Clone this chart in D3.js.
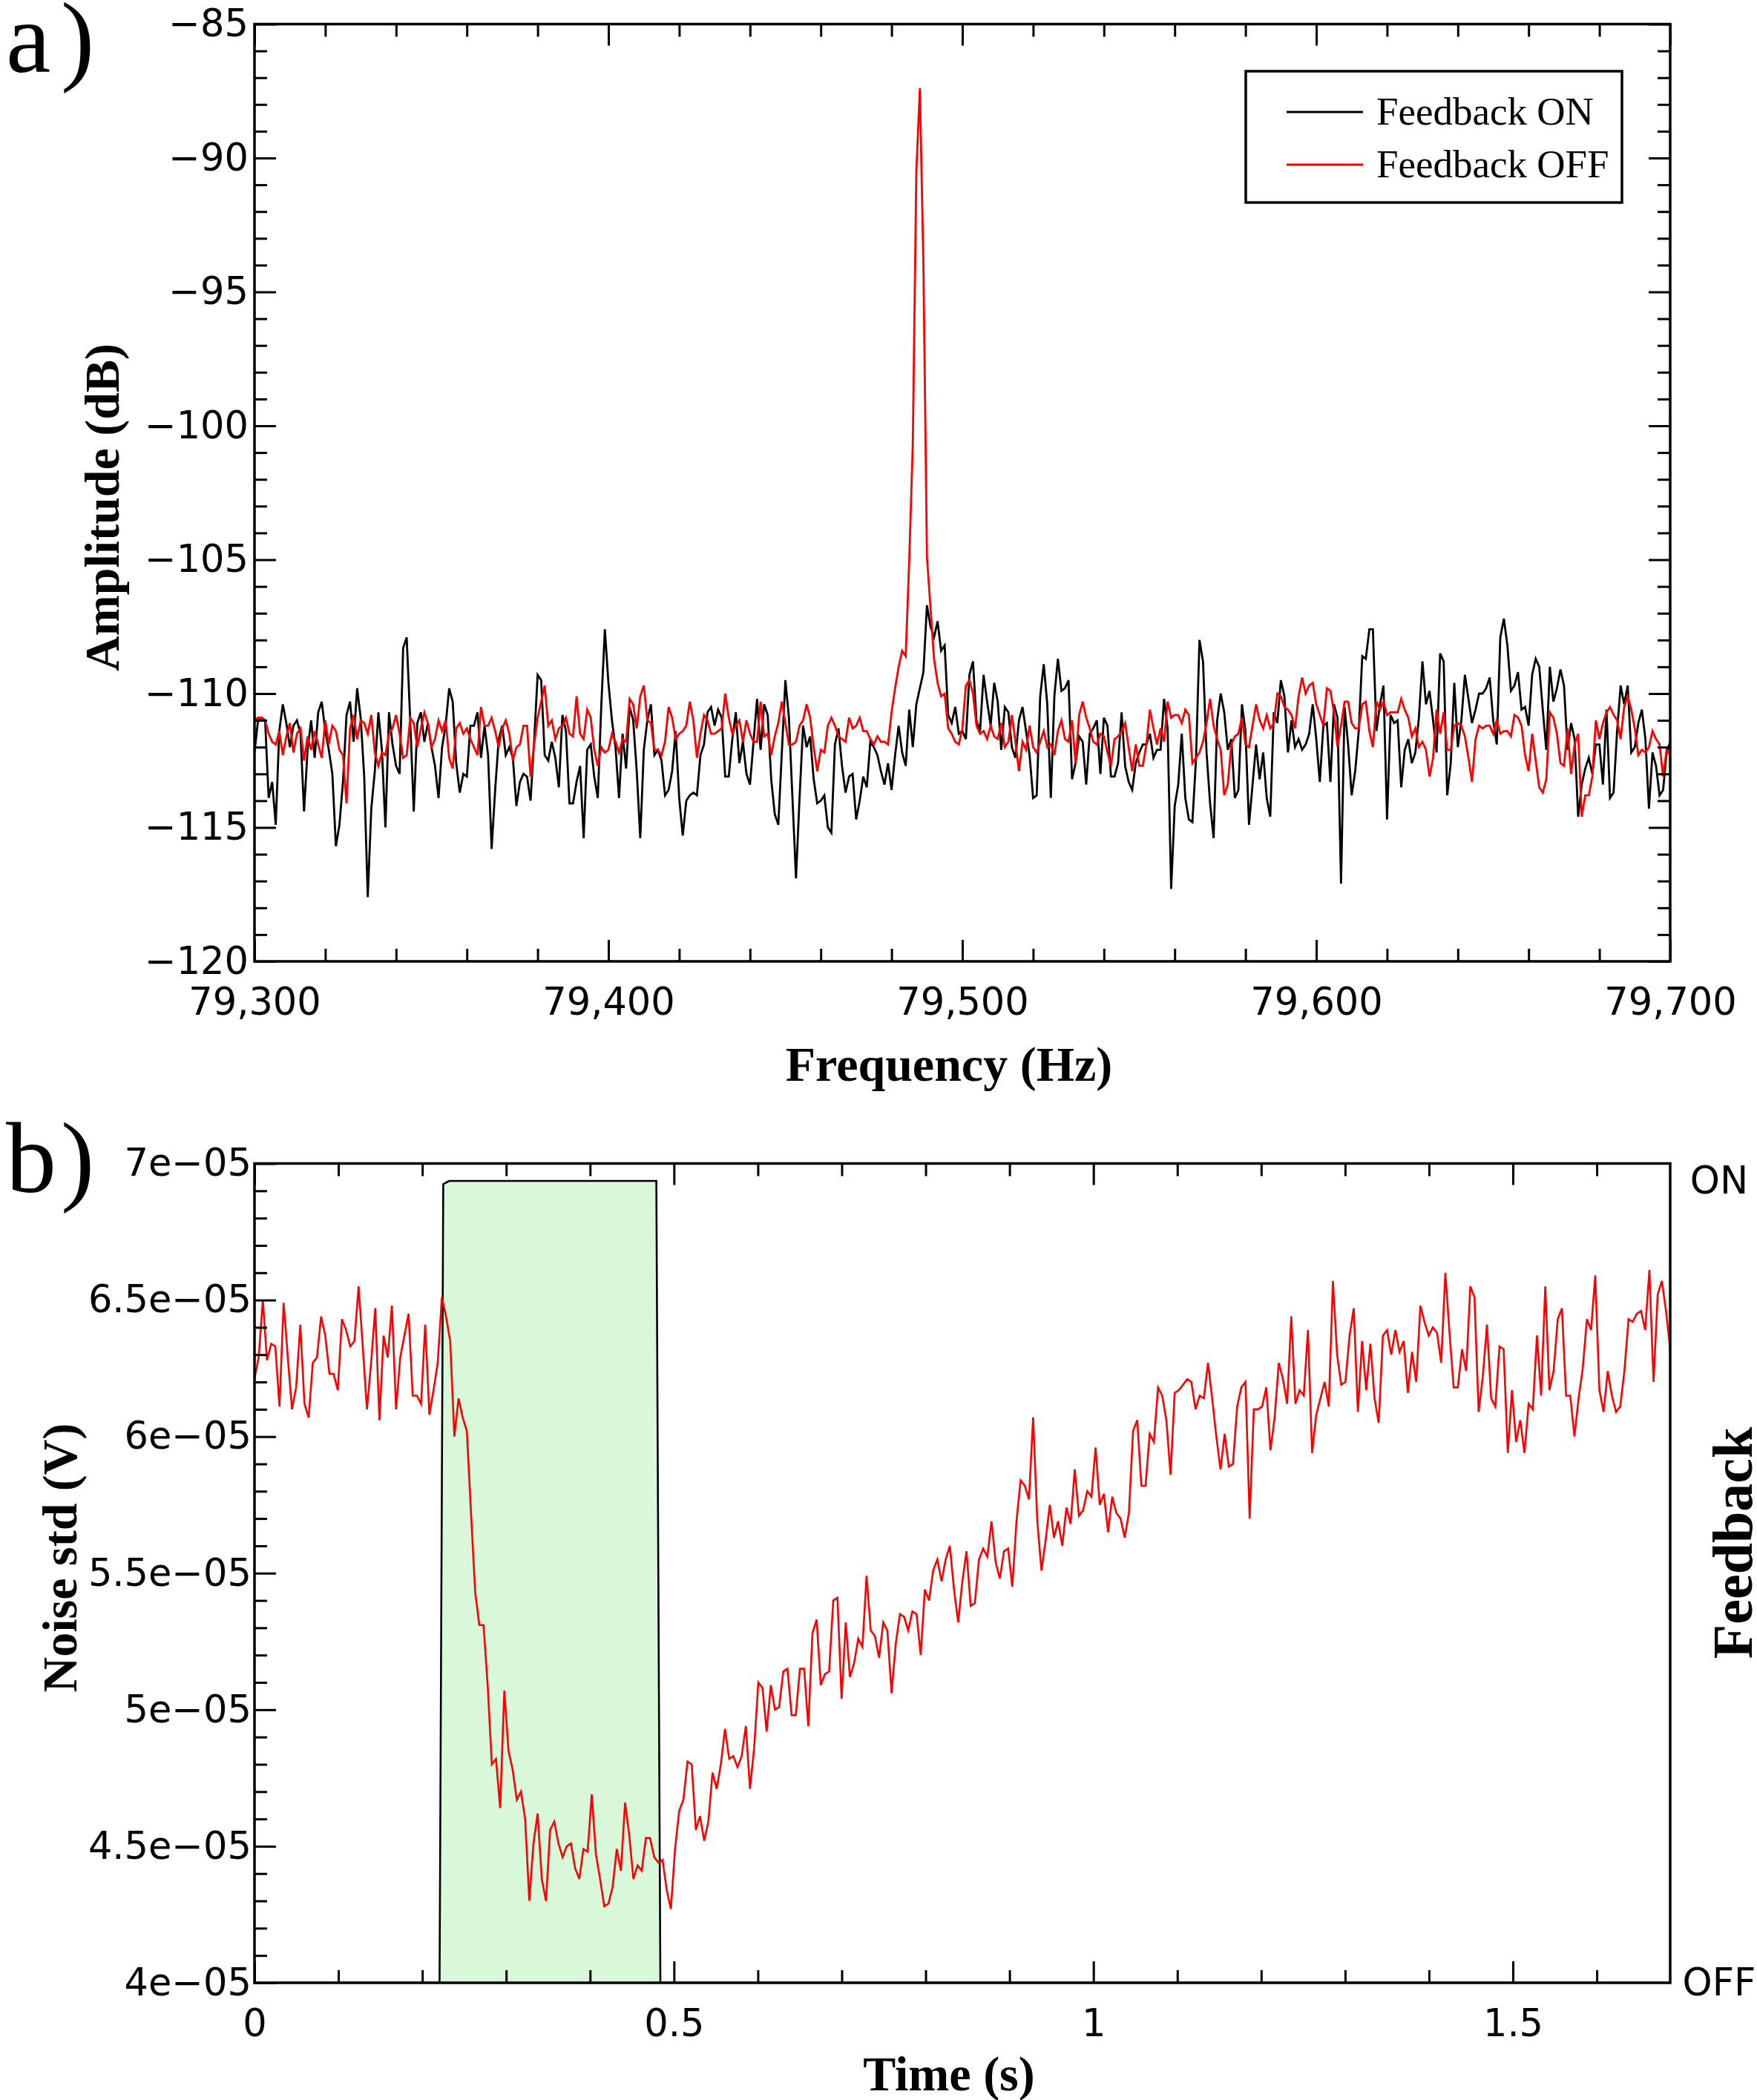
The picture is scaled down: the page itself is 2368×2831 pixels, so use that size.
<!DOCTYPE html>
<html><head><meta charset="utf-8">
<script src="https://cdn.jsdelivr.net/npm/d3@7"></script>
<style>
body{margin:0;background:#fff}
svg{display:block}
</style>
</head><body>
<svg id="chart" width="2368" height="2831"></svg>
<script>
// ---------------- DATA ----------------
// Panel a: spectrum around 79.5 kHz, 1 Hz bins starting at 79,300 Hz
const freqStart = 79300;
const freqStep = 1;
const freqTicks = [79300, 79400, 79500, 79600, 79700];
const ampTicks = [-120, -115, -110, -105, -100, -95, -90, -85];

const amplitudeFeedbackOn = [
-112.2,-111.0,-110.9,-111.0,-113.9,-113.3,-114.9,-111.4,-110.4,-111.1,
-112.0,-111.2,-111.0,-111.5,-114.4,-112.1,-111.0,-112.4,-110.7,-110.3,
-111.4,-112.1,-113.0,-115.7,-114.9,-113.3,-110.8,-110.3,-111.8,-109.8,
-110.9,-113.1,-117.6,-114.3,-112.9,-110.7,-112.1,-115.0,-110.7,-111.9,
-112.7,-113.0,-108.3,-107.9,-111.0,-114.4,-111.1,-110.7,-111.8,-111.1,
-112.0,-112.7,-113.9,-112.0,-111.2,-109.8,-110.3,-112.6,-113.7,-113.0,
-113.1,-111.2,-111.2,-110.7,-112.4,-111.2,-112.3,-115.8,-113.6,-111.7,
-111.2,-112.3,-112.0,-112.4,-114.2,-113.3,-113.0,-113.1,-114.0,-111.8,
-109.3,-109.5,-112.3,-112.5,-111.8,-112.4,-113.5,-110.8,-111.4,-114.1,
-114.1,-113.3,-112.7,-115.4,-112.1,-111.9,-113.1,-113.9,-110.4,-107.6,
-109.6,-111.0,-112.0,-113.9,-111.5,-112.8,-110.5,-111.0,-112.9,-115.4,
-112.1,-111.0,-110.4,-112.3,-112.1,-112.5,-113.8,-113.6,-112.9,-111.4,
-113.9,-115.3,-114.0,-113.8,-113.7,-113.8,-112.3,-111.9,-110.7,-110.5,
-111.2,-110.6,-110.9,-113.1,
-113.1,-111.7,-110.7,-112.6,-111.8,-113.0,-113.4,-111.8,-110.2,-112.1,
-110.4,-110.8,-113.2,-114.5,-114.9,-112.2,-109.5,-110.9,-113.9,-116.9,
-113.9,-111.2,-112.0,-111.6,-113.2,-114.1,-114.0,-113.8,-115.0,-115.2,
-111.9,-111.3,-112.7,-113.7,-113.1,-113.0,-114.7,-114.0,-113.1,-113.5,
-111.8,-112.0,-112.3,-112.9,-113.4,-112.6,-113.6,-112.3,-111.2,-112.2,
-112.7,-110.6,-112.0,-110.4,-109.8,-109.2,-106.7,-107.5,-107.9,-107.3,
-108.4,-108.2,-110.8,-111.1,-110.5,-111.5,-111.4,-111.7,-109.3,-108.8,
-111.0,-111.4,-109.3,-110.3,-111.2,-109.6,-110.3,-112.1,-110.5,-110.7,
-112.0,-112.4,-111.0,-110.5,-111.4,-112.3,-113.9,-113.8,-110.1,-108.9,
-110.4,-113.9,-110.1,-108.7,-109.9,-109.8,-109.5,-113.2,-112.6,-111.6,
-111.8,-113.4,-111.5,-111.3,-111.0,-113.0,-110.9,-111.2,-113.1,-113.1,
-112.6,-110.7,-112.7,-113.3,-113.6,-112.6,-112.2,-111.9,-111.9,-111.5,
-112.4,-112.1,-112.1,-110.2,-111.3,-117.3,-114.2,-113.4,-111.5,-113.9,
-114.7,-114.8,-112.5,
-108.0,-108.8,-112.2,-114.1,-115.4,-111.0,-110.0,-110.7,-112.1,-111.7,
-113.9,-113.6,-110.4,-111.4,-114.9,-113.4,-111.9,-113.2,-112.2,-113.9,
-114.6,-110.7,-111.1,-109.5,-110.1,-112.2,-111.0,-112.0,-111.7,-112.1,
-111.9,-111.5,-110.4,-111.7,-113.3,-111.2,-111.1,-113.3,-110.4,-110.9,
-117.1,-110.5,-111.9,-113.8,-112.9,-111.4,-108.6,-108.7,-107.6,-107.6,
-111.4,-110.4,-109.7,-114.7,-110.8,-111.1,-111.0,-113.5,-112.1,-111.7,
-112.6,-112.2,-110.9,-108.8,-110.4,-109.9,-111.0,-112.2,-108.5,-108.8,
-113.8,-112.6,-109.6,-112.0,-111.0,-109.3,-110.2,-111.1,-110.6,-110.0,
-110.0,-109.8,-109.4,-111.0,-111.9,-107.9,-107.2,-108.2,-109.9,-109.7,
-109.2,-110.6,-110.5,-111.2,-109.3,-108.7,-109.0,-110.6,-112.1,-109.0,
-110.3,-109.8,-109.1,-109.7,-112.1,-111.1,-111.7,-114.6,-113.4,-112.8,
-112.4,-113.0,-111.9,-111.9,-113.4,-110.6,-113.9,-113.7,-111.4,-109.7,
-110.4,-109.7,-112.2,-112.0,-111.1,-110.6,-111.7,-114.3,-112.2,-112.7,
-113.8,-113.6,-112.2,-111.8
];

const amplitudeFeedbackOff = [
-111.0,-110.9,-110.9,-111.0,-111.5,-111.8,-111.9,-111.4,-112.3,-111.6,
-111.1,-112.2,-111.5,-111.3,-112.5,-111.6,-112.1,-111.4,-111.9,-112.4,
-111.0,-111.9,-111.2,-111.4,-112.1,-112.3,-114.1,-111.3,-110.8,-111.7,
-111.0,-111.1,-111.5,-110.8,-112.2,-112.7,-112.2,-112.3,-111.5,-111.3,
-110.8,-111.5,-112.4,-112.3,-110.9,-111.1,-112.0,-111.3,-110.7,-111.1,
-112.0,-111.7,-111.0,-111.4,-111.0,-112.4,-112.8,-111.3,-111.1,-111.5,
-111.3,-111.7,-112.0,-112.3,-110.5,-111.2,-111.2,-110.9,-111.4,-112.0,
-111.3,-111.0,-111.5,-112.5,-112.0,-111.9,-111.2,-111.2,-113.1,-111.9,
-110.9,-110.3,-109.7,-111.2,-111.0,-111.7,-111.3,-111.2,-110.9,-111.5,
-111.6,-110.1,-111.5,-111.7,-110.6,-110.9,-112.1,-112.7,-112.0,-112.2,
-112.1,-111.5,-111.8,-112.2,-111.7,-111.8,-110.2,-110.4,-111.3,-110.1,
-109.7,-111.0,-111.1,-112.1,-112.1,-112.3,-111.8,-110.5,-110.9,-111.7,
-111.5,-111.4,-111.2,-110.3,-111.0,-112.4,-111.5,-110.8,-111.0,-111.5,
-111.5,-111.4,-111.3,-110.0,
-110.9,-111.5,-111.2,-111.0,-111.8,-111.0,-111.5,-111.8,-111.8,-110.3,
-111.6,-111.5,-112.3,-111.6,-111.1,-110.3,-111.1,-111.9,-111.9,-111.8,
-111.2,-111.0,-110.4,-110.9,-112.0,-112.9,-112.1,-112.2,-111.2,-110.9,
-111.2,-111.6,-111.7,-111.8,-110.9,-111.3,-111.2,-110.9,-111.4,-111.4,
-111.7,-111.9,-111.6,-111.8,-111.8,-111.9,-110.7,-109.8,-109.0,-108.4,
-108.6,-105.0,-100.7,-90.5,-87.4,-94.0,-104.9,-106.8,-108.7,-109.6,
-110.1,-110.0,-111.3,-111.5,-111.8,-111.9,-111.3,-109.7,-109.5,-110.0,
-111.2,-111.5,-111.4,-111.7,-111.2,-111.6,-111.7,-111.1,-112.0,-111.8,
-110.8,-111.8,-112.9,-111.8,-112.1,-111.2,-112.0,-112.2,-111.8,-111.4,
-112.0,-111.9,-112.3,-111.4,-111.0,-111.7,-111.8,-111.0,-112.6,-110.8,
-110.3,-110.9,-111.3,-111.8,-111.9,-111.5,-111.6,-112.2,-112.7,-111.7,
-111.6,-111.4,-111.1,-112.0,-112.9,-111.9,-112.7,-112.7,-111.9,-110.6,
-111.3,-111.9,-111.3,-111.8,-110.3,-110.9,-110.8,-110.8,-111.1,-110.6,
-110.8,-112.6,-112.4,
-112.2,-111.8,-111.1,-110.2,-111.2,-111.7,-112.1,-113.8,-113.4,-111.9,
-111.6,-111.5,-110.9,-111.9,-112.0,-111.2,-110.4,-111.0,-111.3,-110.8,
-111.3,-111.1,-110.0,-110.1,-110.5,-110.6,-110.8,-111.3,-110.1,-109.4,
-110.0,-109.7,-109.6,-110.4,-110.8,-111.2,-109.8,-109.9,-110.7,-112.0,
-111.2,-110.3,-110.3,-111.1,-111.3,-111.3,-110.4,-110.3,-111.4,-112.0,
-110.3,-110.6,-110.3,-110.8,-110.7,-110.7,-110.7,-110.2,-110.6,-110.9,
-111.6,-111.3,-112.0,-111.8,-112.1,-113.1,-112.4,-110.6,-111.5,-110.7,
-112.1,-112.1,-111.2,-111.1,-111.2,-111.6,-112.4,-113.3,-111.7,-111.2,
-111.3,-111.2,-111.2,-111.5,-111.0,-111.5,-111.4,-111.4,-111.6,-110.8,
-110.9,-111.2,-112.3,-112.9,-111.5,-112.5,-113.5,-113.7,-113.2,-110.7,
-110.9,-111.5,-112.6,-112.7,-111.3,-113.0,-111.9,-111.5,-114.6,-113.8,
-113.8,-113.1,-111.0,-111.7,-111.1,-110.7,-110.5,-110.8,-111.0,-111.7,
-110.5,-110.1,-110.6,-111.3,-112.3,-112.1,-112.2,-112.0,-111.4,-111.7,
-111.9,-113.1,-112.1,-112.3
];

// Panel b: noise standard deviation (in units of 1e-05 V), uniformly sampled
const timeStep = 0.0049632;
const noiseStdE5 = [
6.21,6.29,6.50,6.28,6.34,6.33,6.11,6.49,6.29,6.10,
6.18,6.41,6.12,6.07,6.27,6.29,6.44,6.37,6.23,6.23,
6.17,6.43,6.39,6.33,6.35,6.55,6.33,6.10,6.27,6.47,
6.06,6.37,6.29,6.48,6.10,6.29,6.37,6.45,6.15,6.15,
6.12,6.41,6.08,6.17,6.27,6.51,6.44,6.35,6.00,6.14,
6.07,6.02,5.72,5.43,5.31,5.31,5.09,4.80,4.82,4.64,
5.07,4.85,4.78,4.67,4.70,4.60,4.30,4.51,4.62,4.38,
4.30,4.56,4.59,4.51,4.46,4.50,4.51,4.42,4.38,4.49,
4.48,4.69,4.47,4.38,4.28,4.29,4.35,4.49,4.41,4.66,
4.54,4.38,4.43,4.41,4.53,4.53,4.46,4.44,4.45,4.34,
4.27,4.49,4.63,4.67,4.81,4.80,4.56,4.61,4.52,4.59,
4.77,4.71,4.80,4.93,4.82,4.83,4.79,4.83,4.94,4.71,
4.86,5.10,5.08,4.92,5.09,5.00,5.01,5.14,5.15,4.98,
4.98,5.15,5.15,4.94,5.28,5.33,5.09,5.13,5.14,5.40,
5.41,5.04,5.32,5.12,5.17,5.26,5.23,5.49,5.29,5.27,
5.19,5.32,5.29,5.06,5.24,5.35,5.34,5.29,5.36,5.35,
5.20,5.44,5.40,5.51,5.55,5.47,5.55,5.60,5.44,5.32,
5.47,5.58,
5.38,5.39,5.55,5.59,5.56,5.69,5.54,5.48,5.58,5.59,
5.45,5.69,5.84,5.82,5.77,6.07,5.69,5.51,5.62,5.75,
5.63,5.69,5.60,5.74,5.68,5.88,5.71,5.73,5.80,5.78,
5.96,5.75,5.79,5.65,5.78,5.72,5.70,5.63,5.72,6.02,
6.06,5.82,5.82,6.01,5.98,6.18,6.15,6.06,5.86,6.16,
6.17,6.19,6.21,6.20,6.10,6.15,6.14,6.27,6.14,6.00,
5.88,6.01,5.89,5.90,6.11,6.18,6.20,5.70,6.10,6.10,
6.11,6.18,5.95,6.07,6.27,6.21,6.12,6.44,6.12,6.17,
6.15,6.39,5.94,6.08,6.14,6.20,6.11,6.57,6.30,6.19,
6.20,6.37,6.47,6.09,6.35,6.17,6.34,6.14,6.05,6.37,
6.39,6.30,6.39,6.31,6.35,6.16,6.31,6.20,6.48,6.42,
6.37,6.40,6.38,6.27,6.60,6.38,6.18,6.18,6.32,6.24,
6.55,6.51,6.09,6.22,6.41,6.14,6.11,6.33,6.32,5.94,
6.17,5.98,6.06,5.94,6.12,6.10,6.37,6.15,6.55,6.17,
6.24,6.43,6.47,6.15,6.15,6.00,6.14,6.25,6.43,6.39,
6.59,6.17,6.09,6.24,6.15,6.09,6.11,6.24,6.43,6.42,
6.45,6.46,6.39,6.61,6.20,6.52,6.57,6.46,6.32
];

// Feedback state (0 = OFF, 1 = ON)
const feedbackTimes = [0, 0.2206, 0.2250, 0.2320, 0.4790, 0.4838, 1.6875];
const feedbackState = [0, 0, 0.996, 1, 1, 0, 0];

const timeTicks = [0, 0.5, 1, 1.5];
const noiseTicks = [4e-5, 4.5e-5, 5e-5, 5.5e-5, 6e-5, 6.5e-5, 7e-5];
const feedbackLabels = ["OFF", "ON"];
const legendLabels = ["Feedback ON", "Feedback OFF"];

// ---------------- DRAWING ----------------
const svg = d3.select("#chart");
svg.append("rect").attr("width", 2368).attr("height", 2831).attr("fill", "#fff");

const TICKFONT = "'DejaVu Sans', sans-serif";
const SERIF = "'Liberation Serif', 'Times New Roman', serif";
const L = 343, R = 2251;

function addAxis(orient, scale, pos, values, size, fmt, pad) {
  const gen = {left: d3.axisLeft, right: d3.axisRight, top: d3.axisTop, bottom: d3.axisBottom}[orient](scale)
    .tickValues(values).tickSizeInner(-size).tickSizeOuter(0)
    .tickPadding(pad || 0)
    .tickFormat(fmt || (() => ""));
  const horiz = (orient === "top" || orient === "bottom");
  const g = svg.append("g")
    .attr("transform", horiz ? `translate(0,${pos})` : `translate(${pos},0)`)
    .call(gen);
  g.select(".domain").remove();
  g.selectAll(".tick line").attr("stroke", "#000").attr("stroke-width", 3);
  g.selectAll(".tick text").attr("fill", "#000")
    .style("font-family", TICKFONT).style("font-size", "51px");
  return g;
}

function minorValues(lo, hi, step, majors) {
  const out = [];
  const n = Math.round((hi - lo) / step);
  for (let i = 0; i <= n; i++) {
    const v = lo + i * step;
    if (!majors.some(m => Math.abs(m - v) < step * 1e-3)) out.push(v);
  }
  return out;
}

// ===== Panel a =====
const xA = d3.scaleLinear().domain([79300, 79700]).range([L, R]);
const yA = d3.scaleLinear().domain([-120, -85]).range([1296, 32.5]);

svg.append("clipPath").attr("id", "clipA").append("rect")
  .attr("x", L).attr("y", 32.5).attr("width", R - L).attr("height", 1296 - 32.5);

const lineA = d3.line().x((d, i) => xA(freqStart + i * freqStep)).y(d => yA(d));
svg.append("path").datum(amplitudeFeedbackOn).attr("clip-path", "url(#clipA)")
  .attr("d", lineA).attr("fill", "none").attr("stroke", "#000").attr("stroke-width", 2.8);
svg.append("path").datum(amplitudeFeedbackOff).attr("clip-path", "url(#clipA)")
  .attr("d", lineA).attr("fill", "none").attr("stroke", "#ff0000").attr("stroke-width", 2.8);

const ampMinor = minorValues(-120, -85, 1, ampTicks);
const freqMinor = minorValues(79300, 79700, 20, freqTicks);
addAxis("left", yA, L, ampMinor, 17);
addAxis("right", yA, R, ampMinor, 17);
addAxis("right", yA, R, ampTicks, 29);
addAxis("left", yA, L, ampTicks, 29, d3.format(""), 8);
addAxis("top", xA, 32.5, freqMinor, 17);
addAxis("top", xA, 32.5, freqTicks, 29);
addAxis("bottom", xA, 1296, freqMinor, 17);
addAxis("bottom", xA, 1296, freqTicks, 29, d3.format(","), 36);

svg.append("rect").attr("x", L).attr("y", 32.5).attr("width", R - L).attr("height", 1296 - 32.5)
  .attr("fill", "none").attr("stroke", "#000").attr("stroke-width", 3.5);

// legend
const lg = svg.append("g");
lg.append("rect").attr("x", 1679).attr("y", 96).attr("width", 507).attr("height", 177)
  .attr("fill", "#fff").attr("stroke", "#000").attr("stroke-width", 3.5);
const legColors = ["#000", "#ff0000"];
legendLabels.forEach((t, i) => {
  const yy = 151 + i * 71;
  lg.append("line").attr("x1", 1734).attr("x2", 1837).attr("y1", yy).attr("y2", yy)
    .attr("stroke", legColors[i]).attr("stroke-width", 3);
  lg.append("text").attr("x", 1855).attr("y", yy + 17).text(t)
    .style("font-family", SERIF).style("font-size", "53px");
});

// titles a
svg.append("text").attr("x", 1279).attr("y", 1457).attr("text-anchor", "middle")
  .text("Frequency (Hz)").style("font-family", SERIF).style("font-weight", "bold").style("font-size", "66px");
svg.append("text").attr("transform", "translate(160,684) rotate(-90)").attr("text-anchor", "middle")
  .text("Amplitude (dB)").style("font-family", SERIF).style("font-weight", "bold").style("font-size", "66px");

// ===== Panel b =====
const T0 = 1568.5, B0 = 2673;
const tMax = (noiseStdE5.length - 1) * timeStep;
const xB = d3.scaleLinear().domain([0, tMax]).range([L, R]);
const yB = d3.scaleLinear().domain([4e-5, 7e-5]).range([B0, T0]);
const yF = d3.scaleLinear().domain([0, 1]).range([B0, 1592]);

svg.append("clipPath").attr("id", "clipB").append("rect")
  .attr("x", L).attr("y", T0).attr("width", R - L).attr("height", B0 - T0);

const fbData = feedbackTimes.map((t, i) => ({t, s: feedbackState[i]}));
svg.append("path").datum(fbData).attr("clip-path", "url(#clipB)")
  .attr("d", d3.area().x(d => xB(d.t)).y0(yF(0)).y1(d => yF(d.s)))
  .attr("fill", "#d9f7d9");
svg.append("path").datum(fbData).attr("clip-path", "url(#clipB)")
  .attr("d", d3.line().x(d => xB(d.t)).y(d => yF(d.s)))
  .attr("fill", "none").attr("stroke", "#000").attr("stroke-width", 2.6);

svg.append("path").datum(noiseStdE5).attr("clip-path", "url(#clipB)")
  .attr("d", d3.line().x((d, i) => xB(i * timeStep)).y(d => yB(d * 1e-5)))
  .attr("fill", "none").attr("stroke", "#ff0000").attr("stroke-width", 2.6);

const noiseMinor = minorValues(4e-5, 7e-5, 1e-6, noiseTicks);
const timeMinor = minorValues(0, 1.6, 0.1, timeTicks);
const noiseFmt = v => (+(v * 1e5).toFixed(1)) + "e\u221205";
addAxis("left", yB, L, noiseMinor, 17);
addAxis("left", yB, L, noiseTicks, 29, noiseFmt, 4);
addAxis("top", xB, T0, timeMinor, 17);
addAxis("top", xB, T0, timeTicks, 29);
addAxis("bottom", xB, B0, timeMinor, 17);
addAxis("bottom", xB, B0, timeTicks, 29, d => String(d), 36);
const fbAxis = addAxis("right", yF, R, [0, 1], 0, d => feedbackLabels[d], 66);
fbAxis.selectAll(".tick text").attr("text-anchor", "middle");

svg.append("rect").attr("x", L).attr("y", T0).attr("width", R - L).attr("height", B0 - T0)
  .attr("fill", "none").attr("stroke", "#000").attr("stroke-width", 3.5);

svg.append("text").attr("x", 1279).attr("y", 2818).attr("text-anchor", "middle")
  .text("Time (s)").style("font-family", SERIF).style("font-weight", "bold").style("font-size", "66px");
svg.append("text").attr("transform", "translate(103,2100) rotate(-90)").attr("text-anchor", "middle")
  .text("Noise std (V)").style("font-family", SERIF).style("font-weight", "bold").style("font-size", "66px");
svg.append("text").attr("transform", "translate(2361,2080) rotate(-90)").attr("text-anchor", "middle")
  .text("Feedback").style("font-family", SERIF).style("font-weight", "bold").style("font-size", "76px");

// panel letters
[["a", 8, 97], [")", 82, 97], ["b", 8, 1607], [")", 82, 1607]].forEach(([t, x, y]) => {
  svg.append("text").attr("x", x).attr("y", y).text(t)
    .style("font-family", SERIF).style("font-size", "136px");
});
</script>
</body></html>
